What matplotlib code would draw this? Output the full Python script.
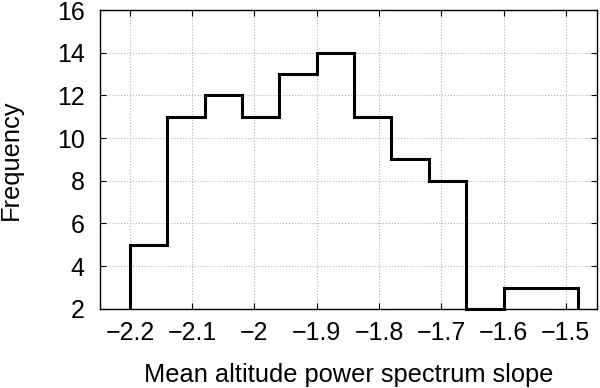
import matplotlib
matplotlib.use("Agg")
import matplotlib.pyplot as plt
import numpy as np

bin_edges = [-2.2, -2.14, -2.08, -2.02, -1.96, -1.90, -1.84, -1.78, -1.72, -1.66, -1.60, -1.54, -1.48]
counts = [5, 11, 12, 11, 13, 14, 11, 9, 8, 2, 3, 3]
xticks = [-2.2, -2.1, -2.0, -1.9, -1.8, -1.7, -1.6, -1.5]
xtick_labels = ["\u22122.2", "\u22122.1", "\u22122", "\u22121.9", "\u22121.8", "\u22121.7", "\u22121.6", "\u22121.5"]
yticks = [2, 4, 6, 8, 10, 12, 14, 16]

plt.rcParams['font.family'] = ['Liberation Sans', 'DejaVu Sans']

fig = plt.figure(figsize=(6, 3.88), dpi=100)
ax = fig.add_axes([0.1667, 0.204, 0.8283, 0.77])

ax.stairs(counts, bin_edges, color='black', linewidth=2.2, baseline=2, fill=False, clip_on=False, zorder=3)

ax.set_xlim(-2.248, -1.45)
ax.set_ylim(2, 16)
ax.set_xticks(xticks)
ax.set_xticklabels(xtick_labels)
ax.set_yticks(yticks)
ax.tick_params(direction='in', top=True, right=True, labelsize=18, length=4, width=0.8)
ax.tick_params(axis='x', pad=9)
ax.tick_params(axis='y', pad=11)
ax.grid(True, linestyle=':', color='#b0b0b0', linewidth=0.8)
for s in ax.spines.values():
    s.set_linewidth(1.0)
ax.set_xlabel("Mean altitude power spectrum slope", fontsize=18.3)
ax.set_ylabel("Frequency", fontsize=18.3)
ax.xaxis.set_label_coords(0.5, -0.18)
ax.yaxis.set_label_coords(-0.155, 0.5)

fig.savefig("out.png", dpi=100)
